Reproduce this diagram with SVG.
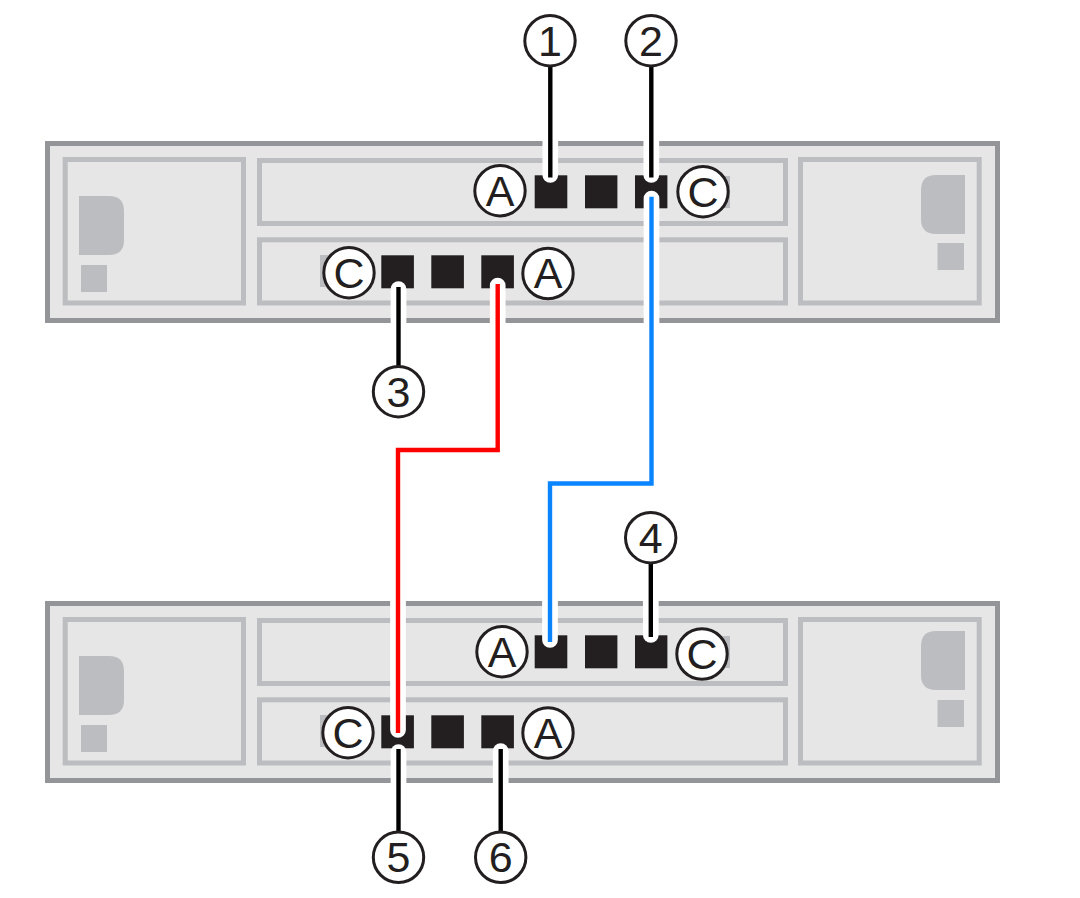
<svg xmlns="http://www.w3.org/2000/svg" width="1080" height="898" viewBox="0 0 1080 898">
<style>
.bg{fill:#fff}
.chassis{fill:#e6e6e7;stroke:#939598;stroke-width:5}
.bay{fill:#e6e6e7;stroke:#bcbdc0;stroke-width:5}
.mark{fill:#bcbdc0}
.port{fill:#231f20}
.halo{fill:none;stroke:#fff;stroke-width:15.7;stroke-linecap:round;stroke-linejoin:miter}
.wire{fill:none;stroke-width:4.4;stroke-linecap:butt;stroke-linejoin:miter}
.k{stroke:#000}
.r{stroke:#ff0000}
.b{stroke:#0a84ff}
.callout circle{fill:#fff;stroke:#231f20;stroke-width:3}
.callout text{font-family:"Liberation Sans",Arial,sans-serif;font-size:43px;fill:#231f20;text-anchor:middle}
</style>
<rect class="bg" x="0" y="0" width="1080" height="898"/>
<g id="chassis-top">
<rect class="chassis" x="47.5" y="143.5" width="950" height="177"/>
<rect class="bay" x="65.2" y="159.5" width="178.3" height="143.5"/>
<rect class="bay" x="259.5" y="160.5" width="526" height="63"/>
<rect class="bay" x="259.5" y="239.8" width="526" height="63.2"/>
<rect class="bay" x="800.5" y="159.5" width="178.7" height="143.5"/>
<path class="mark" d="M79 196H109Q124 196 124 211V240Q124 255 109 255H79Z"/>
<rect class="mark" x="81" y="265" width="26" height="27"/>
<path class="mark" d="M965 175H936Q921 175 921 190V219Q921 234 936 234H965Z"/>
<rect class="mark" x="937.5" y="243" width="26.5" height="27"/>
<rect class="mark" x="700" y="176" width="30" height="32"/>
<rect class="mark" x="320" y="255" width="30" height="32"/>
<rect class="port" x="534.7" y="175.3" width="32.6" height="33"/>
<rect class="port" x="585" y="175.3" width="32.4" height="33"/>
<rect class="port" x="635" y="175.3" width="32.4" height="33"/>
<rect class="port" x="381.3" y="255.3" width="32.6" height="33"/>
<rect class="port" x="431.3" y="255.3" width="32.6" height="33"/>
<rect class="port" x="481.3" y="255.3" width="32.6" height="33"/>
</g>
<g id="chassis-bottom">
<rect class="chassis" x="47.5" y="603.5" width="950" height="177"/>
<rect class="bay" x="65.2" y="619.5" width="178.3" height="143.5"/>
<rect class="bay" x="259.5" y="620.5" width="526" height="63"/>
<rect class="bay" x="259.5" y="699.8" width="526" height="63.2"/>
<rect class="bay" x="800.5" y="619.5" width="178.7" height="143.5"/>
<path class="mark" d="M79 656H109Q124 656 124 671V700Q124 715 109 715H79Z"/>
<rect class="mark" x="81" y="725" width="26" height="27"/>
<path class="mark" d="M965 631H936Q921 631 921 646V675Q921 690 936 690H965Z"/>
<rect class="mark" x="937.5" y="700" width="26.5" height="27"/>
<rect class="mark" x="700" y="636" width="30" height="32"/>
<rect class="mark" x="320" y="715" width="30" height="32"/>
<rect class="port" x="534.7" y="635.3" width="32.6" height="33"/>
<rect class="port" x="585" y="635.3" width="32.4" height="33"/>
<rect class="port" x="635" y="635.3" width="32.4" height="33"/>
<rect class="port" x="381.3" y="715.3" width="32.6" height="33"/>
<rect class="port" x="431.3" y="715.3" width="32.6" height="33"/>
<rect class="port" x="481.3" y="715.3" width="32.6" height="33"/>
</g>
<g id="connectors">
<path class="halo" d="M550.3 40V175"/>
<path class="halo" d="M651.3 40V175"/>
<path class="halo" d="M398.5 289V392"/>
<path class="halo" d="M650.8 538V635"/>
<path class="halo" d="M398.5 752V857"/>
<path class="halo" d="M500.7 751V857"/>
<path class="halo" d="M651.5 198.5V483.5H550V640"/>
<path class="halo" d="M497.7 285.5V450H398V730"/>
<path class="wire k" d="M550.3 40V177.5"/>
<path class="wire k" d="M651.3 40V177.5"/>
<path class="wire k" d="M398.5 287V392"/>
<path class="wire k" d="M650.8 538V637"/>
<path class="wire k" d="M398.5 749V857"/>
<path class="wire k" d="M500.7 749V857"/>
<path class="wire b" d="M651.5 196.7V483.5H550V642"/>
<path class="wire r" d="M497.7 284V450H398V733"/>
</g>
<g id="c1" class="callout"><circle cx="550" cy="40.7" r="25.2"/><text x="550" y="55.5">1</text></g>
<g id="c2" class="callout"><circle cx="651" cy="40.7" r="25.2"/><text x="651" y="55.5">2</text></g>
<g id="c3" class="callout"><circle cx="398.5" cy="391.7" r="25.2"/><text x="398.5" y="406.5">3</text></g>
<g id="c4" class="callout"><circle cx="650.7" cy="537.7" r="25.2"/><text x="650.7" y="552.5">4</text></g>
<g id="c5" class="callout"><circle cx="398.5" cy="857.3" r="25.2"/><text x="398.5" y="872">5</text></g>
<g id="c6" class="callout"><circle cx="500.7" cy="857.3" r="25.2"/><text x="500.7" y="872">6</text></g>
<g id="p-top-a1" class="callout"><circle cx="500" cy="190.7" r="25.2"/><text x="500" y="205.5">A</text></g>
<g id="p-top-c1" class="callout"><circle cx="703" cy="191.7" r="25.2"/><text x="703" y="206.5">C</text></g>
<g id="p-top-c2" class="callout"><circle cx="349" cy="272.7" r="25.2"/><text x="349" y="287.5">C</text></g>
<g id="p-top-a2" class="callout"><circle cx="548" cy="273.5" r="25.2"/><text x="548" y="288.3">A</text></g>
<g id="p-bot-a1" class="callout"><circle cx="502" cy="651.7" r="25.2"/><text x="502" y="666.5">A</text></g>
<g id="p-bot-c1" class="callout"><circle cx="702" cy="654" r="25.2"/><text x="702" y="668.8">C</text></g>
<g id="p-bot-c2" class="callout"><circle cx="348" cy="732.7" r="25.2"/><text x="348" y="747.5">C</text></g>
<g id="p-bot-a2" class="callout"><circle cx="548" cy="733" r="25.2"/><text x="548" y="747.8">A</text></g>
</svg>
